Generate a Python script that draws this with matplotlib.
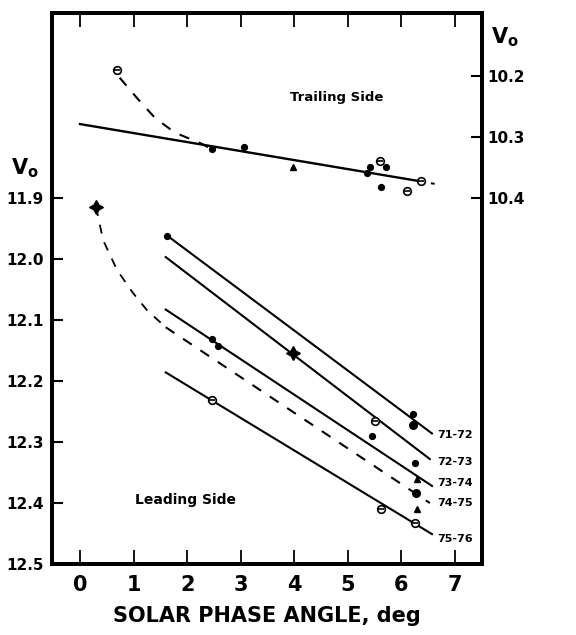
import matplotlib
matplotlib.use("Agg")
import matplotlib.pyplot as plt

# ---------------- data ----------------
# Trailing side (right axis, V0 10.2-10.4)
trail_x = [0.69, 2.46, 3.06, 3.98, 5.35, 5.41, 5.60, 5.72, 5.62, 6.10, 6.36]
trail_v = [10.190, 10.320, 10.316, 10.350, 10.360, 10.349, 10.340, 10.350, 10.382, 10.388, 10.373]
trail_mk = ['oc', 'o', 'o', '^', 'o', 'o', 'oc', 'o', 'o', 'oc', 'oc']

trail_fit_x = [0.0, 6.30]
trail_fit_v = [10.279, 10.372]
trail_ext_x = [6.30, 6.62]
trail_ext_v = [10.372, 10.377]

trail_curve_x = [0.74, 1.06, 1.40, 1.77, 2.24, 2.46]
trail_curve_v = [10.203, 10.236, 10.269, 10.293, 10.310, 10.320]

# Leading side (left axis, V0 11.9-12.5)
lead_x = [0.30, 1.63, 2.46, 2.58, 2.46, 3.98, 5.50, 5.45, 6.21, 6.21, 6.25, 6.29, 6.27, 6.29, 6.25, 5.61]
lead_v = [11.915, 11.962, 12.132, 12.142, 12.232, 12.155, 12.265, 12.291, 12.254, 12.272,
          12.334, 12.361, 12.383, 12.410, 12.433, 12.410]
lead_mk = ['*', 'o', 'o', 'o', 'oc', '*', 'oc', 'o', 'o', 'O', 'o', '^', 'O', '^', 'oc', 'oc']

lead_curve_x = [0.30, 0.43, 0.69, 0.99, 1.25, 1.60]
lead_curve_v = [11.915, 11.969, 12.018, 12.056, 12.084, 12.112]

season_labels = ['71-72', '72-73', '73-74', '74-75', '75-76']
season_x0 = [1.63, 1.60, 1.60, 1.60, 1.60]
season_v0 = [11.962, 11.997, 12.083, 12.112, 12.186]
season_x1 = [6.57, 6.53, 6.57, 6.53, 6.57]
season_v1 = [12.286, 12.328, 12.372, 12.400, 12.451]
season_dashed = [False, False, False, True, False]
label_v = [12.289, 12.333, 12.367, 12.400, 12.459]

x_ticks = [0, 1, 2, 3, 4, 5, 6, 7]
left_ticks = [11.9, 12.0, 12.1, 12.2, 12.3, 12.4, 12.5]
left_ticklabels = ['11.9', '12.0', '12.1', '12.2', '12.3', '12.4', '12.5']
right_ticks = [10.2, 10.3, 10.4]
right_ticklabels = ['10.2', '10.3', '10.4']

# ---------------- figure ----------------
fig = plt.figure(figsize=(5.76, 6.35), dpi=100)
ax = fig.add_axes([0.0903, 0.1118, 0.7465, 0.8677])
axr = ax.twinx()

ax.set_xlim(-0.523, 7.504)
ax.set_ylim(12.5, 11.597)
axr.set_ylim(11.0, 10.097)

for a in (ax, axr):
    for s in a.spines.values():
        s.set_linewidth(2.8)

ax.set_xticks(x_ticks)
ax.set_xticklabels([str(t) for t in x_ticks], fontsize=15, fontweight='bold')
ax.tick_params(axis='x', direction='in', length=10, width=1.3, top=True, pad=8)
ax.set_yticks(left_ticks)
ax.set_yticklabels(left_ticklabels, fontsize=11, fontweight='bold')
ax.tick_params(axis='y', direction='in', length=8, width=1.5, pad=6)
axr.set_yticks(right_ticks)
axr.set_yticklabels(right_ticklabels, fontsize=11, fontweight='bold')
axr.tick_params(axis='y', direction='in', length=8, width=1.5, pad=4)

ax.set_xlabel('SOLAR PHASE ANGLE, deg', fontsize=15, fontweight='bold', labelpad=8)


def draw_marker(a, x, y, m):
    if m == 'o':
        a.plot(x, y, 'o', color='black', ms=4.2, zorder=5)
    elif m == 'O':
        a.plot(x, y, 'o', color='black', ms=5.5, zorder=5)
    elif m == '^':
        a.plot(x, y, '^', color='black', ms=4.5, zorder=5)
    elif m == '*':
        a.plot(x, y, marker=(4, 1, 0), color='black', ms=10, zorder=5)
    elif m == 'oc':
        a.plot(x, y, 'o', mfc='white', mec='black', mew=1.2, ms=5.5, zorder=5)
        a.plot(x, y, '_', color='black', ms=4, mew=1.2, zorder=6)


# Trailing side (right axis)
axr.plot(trail_fit_x, trail_fit_v, '-', color='black', lw=1.7)
axr.plot(trail_ext_x, trail_ext_v, '--', color='black', lw=1.4, dashes=(4, 3))
axr.plot(trail_curve_x, trail_curve_v, '--', color='black', lw=1.5, dashes=(5, 5))
for x, v, m in zip(trail_x, trail_v, trail_mk):
    draw_marker(axr, x, v, m)

# Leading side (left axis)
ax.plot(lead_curve_x, lead_curve_v, '--', color='black', lw=1.3, dashes=(5, 5))
for lab, x0, v0, x1, v1, d, lv in zip(season_labels, season_x0, season_v0, season_x1,
                                      season_v1, season_dashed, label_v):
    if d:
        ax.plot([x0, x1], [v0, v1], '--', color='black', lw=1.5, dashes=(5, 5))
    else:
        ax.plot([x0, x1], [v0, v1], '-', color='black', lw=1.5)
    ax.text(6.66, lv, lab, fontsize=8, fontweight='bold', ha='left', va='center')
for x, v, m in zip(lead_x, lead_v, lead_mk):
    draw_marker(ax, x, v, m)

ax.text(4.8, 11.735, 'Trailing Side', fontsize=9.5, fontweight='bold', ha='center', va='center')
ax.text(1.96, 12.395, 'Leading Side', fontsize=10, fontweight='bold', ha='center', va='center')

fig.text(25 / 576, 1 - 168 / 635, r'$\mathbf{V_o}$', fontsize=15, ha='center', va='center')
fig.text(505 / 576, 1 - 37 / 635, r'$\mathbf{V_o}$', fontsize=15, ha='center', va='center')

fig.savefig('out.png', dpi=100)
